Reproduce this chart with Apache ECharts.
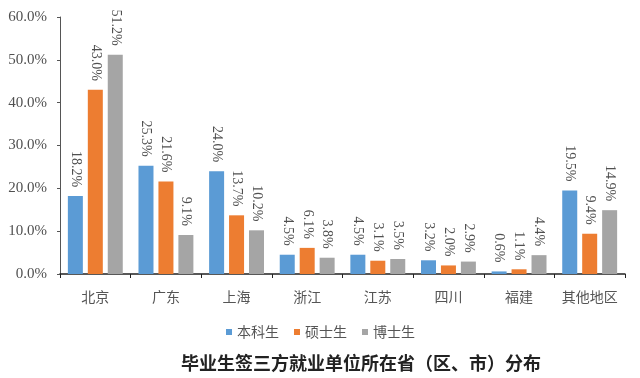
<!DOCTYPE html>
<html>
<head>
<meta charset="utf-8">
<script src="https://cdn.jsdelivr.net/npm/echarts@6/dist/echarts.min.js"></script>
<style>
	html, body { margin: 0; padding: 0; background: #fff; }
	#chart { width: 640px; height: 378px; }
</style>
</head>
<body>
<div id="chart"></div>
<script>
let categories = ['北京', '广东', '上海', '浙江', '江苏', '四川', '福建', '其他地区']
let undergrad = [18.2, 25.3, 24.0, 4.5, 4.5, 3.2, 0.6, 19.5]
let master = [43.0, 21.6, 13.7, 6.1, 3.1, 2.0, 1.1, 9.4]
let doctor = [51.2, 9.1, 10.2, 3.8, 3.5, 2.9, 4.4, 14.9]
let seriesNames = ['本科生', '硕士生', '博士生']
let colors = ['#5b9bd5', '#ed7d31', '#a5a5a5']

let serif = '"Liberation Serif", "Times New Roman", serif'
let cjk = '"Noto Sans CJK SC", sans-serif'

// 柱子上方竖排的百分比
let makeSeries = (name, data, color) => {
	return {
		name: name,
		type: 'bar',
		data: data,
		barWidth: 15,
		barGap: '33%',
		itemStyle: { color: color },
		label: {
			show: true,
			position: 'top',
			rotate: -90,
			align: 'right',
			verticalAlign: 'middle',
			distance: 9,
			fontFamily: serif,
			fontSize: 14,
			color: '#505050',
			formatter: (p) => p.value.toFixed(1) + '%'
		}
	}
}

let myChart = echarts.init(document.getElementById('chart'))
myChart.setOption({
	animation: false,
	color: colors,
	title: {
		text: '毕业生签三方就业单位所在省（区、市）分布',
		left: 181,
		top: 354,
		padding: 0,
		textStyle: { fontFamily: cjk, fontSize: 18, fontWeight: 'bold', color: '#222' }
	},
	legend: {
		data: seriesNames,
		left: 221,
		top: 320,
		itemWidth: 6,
		itemHeight: 6,
		itemGap: 15,
		icon: 'rect',
		textStyle: { fontFamily: cjk, fontSize: 14, color: '#555' }
	},
	grid: {
		left: 60,
		right: 15,
		top: 17,
		bottom: 104
	},
	xAxis: {
		type: 'category',
		data: categories,
		axisLine: { lineStyle: { color: '#222', width: 1.5 } },
		axisTick: { show: true, alignWithLabel: false, length: 4, lineStyle: { color: '#222' } },
		axisLabel: { interval: 0, fontFamily: cjk, fontSize: 14, color: '#555', margin: 16 }
	},
	yAxis: {
		type: 'value',
		min: 0,
		max: 60,
		interval: 10,
		splitLine: { show: false },
		axisLine: { show: true, lineStyle: { color: '#555' } },
		axisTick: { show: true, length: 3, lineStyle: { color: '#555' } },
		axisLabel: {
			fontFamily: serif,
			fontSize: 15,
			color: '#505050',
			margin: 13,
			formatter: (v) => v.toFixed(1) + '%'
		}
	},
	series: [
		makeSeries(seriesNames[0], undergrad, colors[0]),
		makeSeries(seriesNames[1], master, colors[1]),
		makeSeries(seriesNames[2], doctor, colors[2])
	]
})
</script>
</body>
</html>
